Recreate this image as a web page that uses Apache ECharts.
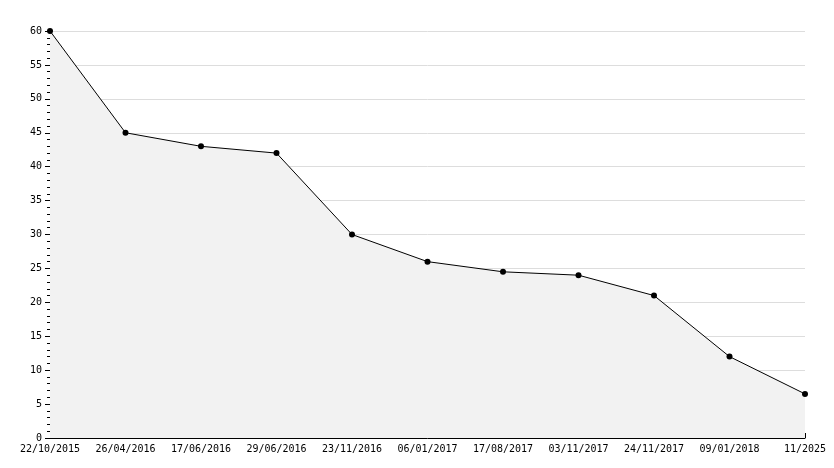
<!DOCTYPE html>
<html>
<head>
<meta charset="utf-8"/>
<script src="https://cdn.jsdelivr.net/npm/echarts@6/dist/echarts.min.js"></script>
</head>
<body style="margin:0">
<div id="c" style="width:834px;height:468px;"></div>
<script>
var dates = ['22/10/2015','26/04/2016','17/06/2016','29/06/2016','23/11/2016','06/01/2017','17/08/2017','03/11/2017','24/11/2017','09/01/2018','11/2025'];
var values = [60, 45, 43, 42, 30, 26, 24.5, 24, 21, 12, 6.5];
var font = {fontFamily: 'DejaVu Sans Mono', fontSize: 10, color: '#000'};
var chart = echarts.init(document.getElementById('c'));
chart.setOption({
    animation: false,
    grid: {left: 50, right: 29, top: 31, bottom: 30},
    xAxis: {
        type: 'category', data: dates, boundaryGap: false,
        axisLine: {lineStyle: {color: '#000'}},
        axisTick: {inside: true, length: 5, lineStyle: {color: '#000'}},
        axisLabel: Object.assign({margin: 6, interval: 0}, font)
    },
    yAxis: {
        type: 'value', min: 0, max: 60, interval: 5,
        axisLine: {show: true, lineStyle: {color: '#000'}},
        axisTick: {show: true, length: 5, lineStyle: {color: '#000'}},
        minorTick: {show: true, splitNumber: 5, length: 3, lineStyle: {color: '#000'}},
        splitLine: {lineStyle: {color: '#ddd'}},
        axisLabel: Object.assign({margin: 8}, font)
    },
    series: [{
        type: 'line', data: values,
        symbol: 'circle', symbolSize: 6,
        itemStyle: {color: '#000'},
        lineStyle: {color: '#000', width: 1},
        areaStyle: {color: '#f2f2f2', opacity: 1}
    }]
});
</script>
</body>
</html>
